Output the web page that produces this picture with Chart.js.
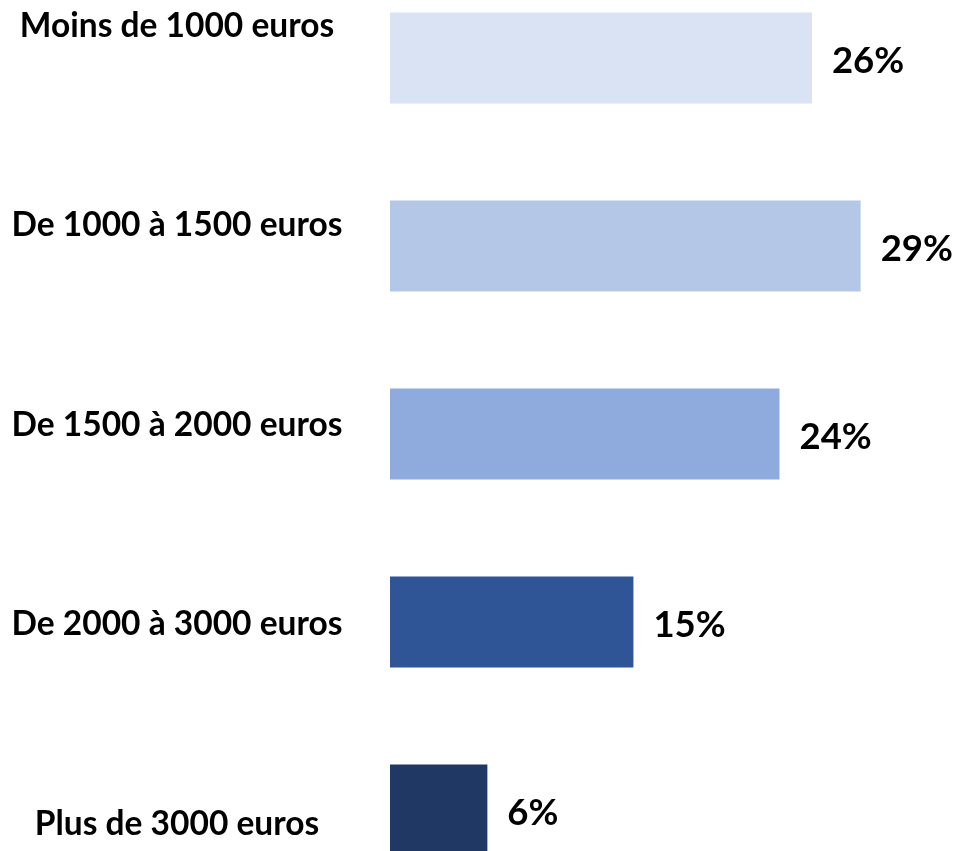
<!DOCTYPE html>
<html>
<head>
<meta charset="utf-8">
<script src="https://cdn.jsdelivr.net/npm/chart.js@4"></script>
<style>
  html, body { margin: 0; padding: 0; background: #fff; overflow: hidden; }
  #wrap { position: relative; width: 958px; height: 851px; overflow: hidden; }
  #chart { position: absolute; left: 0; top: -36px; }
</style>
</head>
<body>
<div id="wrap"><canvas id="chart" width="958" height="940"></canvas></div>
<script>
const categories = ['Moins de 1000 euros', 'De 1000 à 1500 euros', 'De 1500 à 2000 euros', 'De 2000 à 3000 euros', 'Plus de 3000 euros'];
const shares = [26, 29, 24, 15, 6];
const barColors = ['#DAE3F3', '#B4C7E7', '#8FAADC', '#2F5597', '#203864'];

const labelFont = 'bold 33.5px Lato, "Open Sans", sans-serif';
const valueFont = 'bold 36.5px Lato, "Open Sans", sans-serif';

// draws the category names on the left and the percentages after each bar
const labelsPlugin = {
    id: 'labels',
    afterDatasetsDraw(chart) {
        const ctx = chart.ctx;
        const yScale = chart.scales.y;
        ctx.save();
        ctx.fillStyle = '#000';
        ctx.textBaseline = 'middle';

        ctx.font = labelFont;
        ctx.textAlign = 'center';
        categories.forEach((name, i) => {
            const y = yScale.getPixelForValue(i) + (i - 2.8) * 11.5;
            ctx.fillText(name, 177, y);
        });

        ctx.font = valueFont;
        ctx.textAlign = 'left';
        chart.getDatasetMeta(0).data.forEach((bar, i) => {
            ctx.fillText(shares[i] + '%', bar.x + 20, bar.y + 3);
        });
        ctx.restore();
    }
};

new Chart(document.getElementById('chart'), {
    type: 'bar',
    data: {
        labels: categories,
        datasets: [{
            data: shares,
            backgroundColor: barColors,
            borderWidth: 0,
            categoryPercentage: 1,
            barPercentage: 0.485,
        }],
    },
    options: {
        indexAxis: 'y',
        responsive: false,
        animation: false,
        devicePixelRatio: 1,
        layout: { padding: { left: 390, right: 0, top: 0, bottom: 0 } },
        scales: {
            x: { display: false, min: 0, max: 35 },
            y: { display: false },
        },
        plugins: {
            legend: { display: false },
            tooltip: { enabled: false },
        },
    },
    plugins: [labelsPlugin],
});
</script>
</body>
</html>
